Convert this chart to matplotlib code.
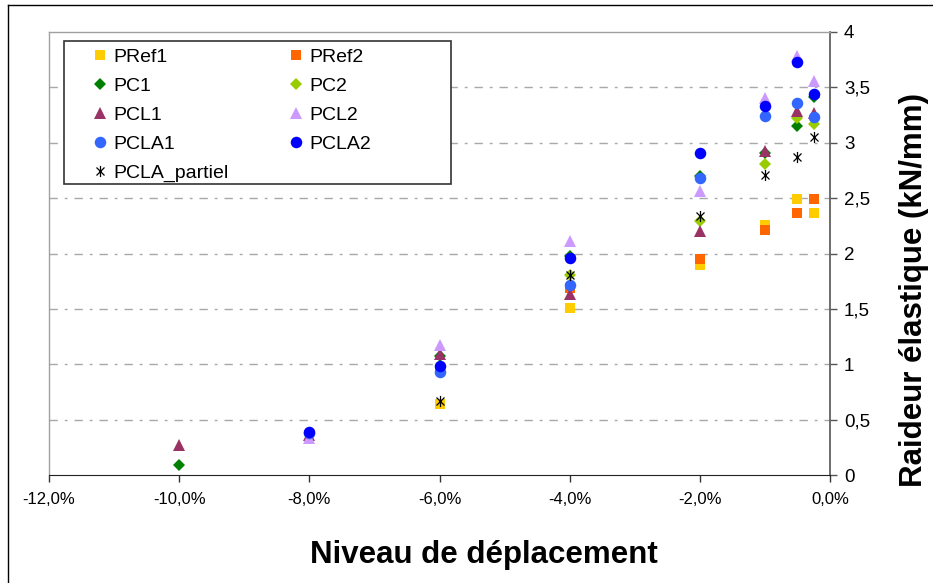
import matplotlib
matplotlib.use("Agg")
import matplotlib.pyplot as plt
from matplotlib.path import Path
from matplotlib.lines import Line2D
from matplotlib.patches import Rectangle
from matplotlib.ticker import FuncFormatter, MultipleLocator

plt.rcParams['font.family'] = ['Liberation Sans', 'DejaVu Sans']

# ------------------ DATA ------------------
x_pref1 = [-6, -4, -2, -1, -0.5, -0.25]
y_pref1 = [0.64, 1.51, 1.90, 2.26, 2.49, 2.37]

x_pref2 = [-6, -4, -2, -1, -0.5, -0.25]
y_pref2 = [0.95, 1.69, 1.95, 2.21, 2.37, 2.49]

x_pc1 = [-10, -6, -4, -2, -1, -0.5, -0.25]
y_pc1 = [0.09, 1.07, 1.98, 2.70, 2.91, 3.15, 3.41]

x_pc2 = [-4, -2, -1, -0.5, -0.25]
y_pc2 = [1.81, 2.29, 2.81, 3.22, 3.17]

x_pcl1 = [-10, -8, -6, -4, -2, -1, -0.5, -0.25]
y_pcl1 = [0.27, 0.36, 1.09, 1.63, 2.20, 2.93, 3.29, 3.27]

x_pcl2 = [-8, -6, -4, -2, -1, -0.5, -0.25]
y_pcl2 = [0.33, 1.17, 2.11, 2.56, 3.40, 3.78, 3.56]

x_pcla1 = [-8, -6, -4, -2, -1, -0.5, -0.25]
y_pcla1 = [0.38, 0.93, 1.72, 2.68, 3.24, 3.36, 3.23]

x_pcla2 = [-8, -6, -4, -2, -1, -0.5, -0.25]
y_pcla2 = [0.39, 0.98, 1.96, 2.91, 3.33, 3.73, 3.44]

x_partiel = [-6, -4, -2, -1, -0.5, -0.25]
y_partiel = [0.67, 1.81, 2.34, 2.71, 2.87, 3.05]
# ------------------------------------------

# asterisk marker: vertical bar + X
star = Path([(0, -1), (0, 1), (-0.72, -0.72), (0.72, 0.72), (-0.72, 0.72), (0.72, -0.72)],
            [Path.MOVETO, Path.LINETO, Path.MOVETO, Path.LINETO, Path.MOVETO, Path.LINETO])

series = [
    ('PRef1', x_pref1, y_pref1, 's', '#FFCC00', 7),
    ('PRef2', x_pref2, y_pref2, 's', '#FF6600', 7),
    ('PC1', x_pc1, y_pc1, 'D', '#008000', 6.5),
    ('PC2', x_pc2, y_pc2, 'D', '#99CC00', 6.5),
    ('PCL1', x_pcl1, y_pcl1, '^', '#993366', 8.5),
    ('PCL2', x_pcl2, y_pcl2, '^', '#CC99FF', 8.5),
    ('PCLA1', x_pcla1, y_pcla1, 'o', '#3366FF', 8.3),
    ('PCLA2', x_pcla2, y_pcla2, 'o', '#0000FF', 8.3),
    ('PCLA_partiel', x_partiel, y_partiel, star, '#000000', 8),
]

fig = plt.figure(figsize=(9.33, 5.83), dpi=100)
ax = fig.add_axes([49 / 933, 1 - 475 / 583, (830 - 49) / 933, (475 - 32) / 583])

handles = {}
for i, (name, xs, ys, mk, col, ms) in enumerate(series):
    if mk is star:
        h, = ax.plot(xs, ys, linestyle='none', marker=mk, markersize=ms,
                     markeredgecolor=col, markerfacecolor='none', markeredgewidth=0.9,
                     label=name, zorder=3 + i)
    else:
        h, = ax.plot(xs, ys, linestyle='none', marker=mk, markersize=ms,
                     color=col, markeredgewidth=0, label=name, zorder=3 + i)
    handles[name] = h

ax.set_xlim(-12, 0)
ax.set_ylim(0, 4)
ax.xaxis.set_major_locator(MultipleLocator(2))
ax.yaxis.set_major_locator(MultipleLocator(0.5))
ax.xaxis.set_major_formatter(FuncFormatter(lambda v, p: f"{v:.1f}%".replace('.', ',')))
ax.yaxis.set_major_formatter(FuncFormatter(lambda v, p: f"{v:g}".replace('.', ',')))

ax.yaxis.tick_right()
ax.tick_params(axis='x', direction='out', length=5, width=1, colors='#333333',
               labelsize=12, labelcolor='black', pad=7)
ax.tick_params(axis='y', direction='out', length=5, width=1, colors='#555555',
               labelsize=13.5, labelcolor='black', pad=5)

for s in ['top', 'left']:
    ax.spines[s].set_color('#A0A0A0')
    ax.spines[s].set_linewidth(1)
ax.spines['bottom'].set_color('#222222')
ax.spines['right'].set_color('#555555')
ax.spines['right'].set_linewidth(1.2)

# dash-dot horizontal gridlines
for yv in [0.5, 1, 1.5, 2, 2.5, 3, 3.5]:
    ax.axhline(yv, color='#A8A8A8', linewidth=1, dashes=(6, 5, 2, 5), zorder=1)

# legend box (fixed size, like the spreadsheet legend)
ax.add_patch(Rectangle((0.0192, 0.6569), 0.4955, 0.3228, transform=ax.transAxes,
                       facecolor='white', edgecolor='#333333', linewidth=1.2, zorder=19))

order = ['PRef1', 'PC1', 'PCL1', 'PCLA1', 'PCLA_partiel', 'PRef2', 'PC2', 'PCL2', 'PCLA2']
leg = ax.legend([handles[n] for n in order], order, ncol=2, loc='upper left',
                bbox_to_anchor=(0.0529, 0.9639), fontsize=14, frameon=False,
                borderpad=0, labelspacing=0.59, handletextpad=0.17, handlelength=1.0,
                columnspacing=3.0, borderaxespad=0)
leg.set_zorder(20)

fig.text(484 / 933, 1 - 555 / 583, 'Niveau de déplacement', ha='center', va='center',
         fontsize=22.5, fontweight='bold')
fig.text(914 / 933, 1 - 290 / 583, 'Raideur élastique (kN/mm)', ha='center', va='center',
         rotation=90, fontsize=22.5, fontweight='bold')

# outer chart border (top and left)
fig.add_artist(Line2D([8 / 933, 1], [1 - 5 / 583, 1 - 5 / 583], color='black', linewidth=1))
fig.add_artist(Line2D([8 / 933, 8 / 933], [0, 1 - 5 / 583], color='black', linewidth=1))

fig.savefig('out.png', dpi=100, facecolor='white')
